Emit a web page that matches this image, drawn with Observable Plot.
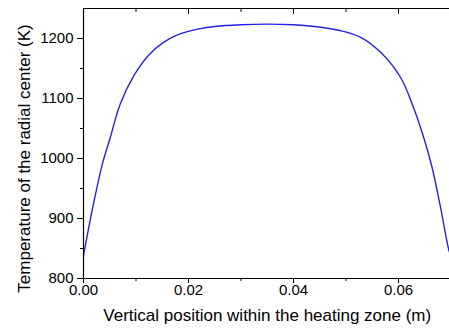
<!DOCTYPE html>
<html>
<head>
<meta charset="utf-8">
<script src="https://cdn.jsdelivr.net/npm/d3@7"></script>
<script src="https://cdn.jsdelivr.net/npm/@observablehq/plot@0.6"></script>
<style>
  html, body { margin: 0; padding: 0; background: #fff; }
  svg { display: block; }
</style>
</head>
<body>
<div id="chart"></div>
<script>
const positions = [0, 0.001, 0.0023, 0.0036, 0.0051, 0.007, 0.0096, 0.0124, 0.0153, 0.0185, 0.022, 0.025, 0.03, 0.035, 0.04, 0.044, 0.049, 0.0528, 0.0566, 0.0604, 0.0626, 0.0648, 0.0664, 0.068, 0.0696, 0.07];
const temps = [838, 885, 941, 991, 1035, 1091, 1138, 1172, 1194, 1208, 1216, 1220, 1223, 1224, 1223, 1220, 1213, 1202, 1177, 1135, 1091, 1035, 985, 919, 847, 838];
const xMajor = [0, 0.02, 0.04, 0.06];
const xMinor = [0.01, 0.03, 0.05];
const yMajor = [800, 900, 1000, 1100, 1200];
const yMinor = [850, 950, 1050, 1150];
const xDomain = [0, 0.07];
const yDomain = [800, 1250];
const xLabel = "Vertical position within the heating zone (m)";
const yLabel = "Temperature of the radial center (K)";

const data = positions.map((x, i) => ({x, t: temps[i]}));
const font = "Liberation Sans, Arial, Helvetica, sans-serif";

const chart = Plot.plot({
  width: 449,
  height: 335,
  marginLeft: 83,
  marginRight: -1.5,
  marginTop: 8,
  marginBottom: 57,
  style: {fontFamily: font, fontSize: "15px", color: "#000", background: "#fff"},
  x: {domain: xDomain},
  y: {domain: yDomain},
  marks: [
    Plot.line(data, {x: "x", y: "t", stroke: "#2222e6", strokeWidth: 1.4, curve: "catmull-rom"}),
    Plot.ruleX([xDomain[0]], {stroke: "#000", strokeWidth: 1.2}),
    Plot.ruleY([yDomain[0]], {stroke: "#000", strokeWidth: 1.2}),
    Plot.ruleY([yDomain[1]], {stroke: "#000", strokeWidth: 1.2}),
    Plot.axisX({ticks: xMajor, tickSize: 5, tickPadding: 1, tickFormat: d3.format(".2f"), label: null, fontSize: 15}),
    Plot.axisX({ticks: xMinor, tickSize: 3, tickFormat: () => "", label: null}),
    Plot.axisX({anchor: "top", ticks: xMajor, tickSize: -5, tickFormat: () => "", label: null}),
    Plot.axisX({anchor: "top", ticks: xMinor, tickSize: -3, tickFormat: () => "", label: null}),
    Plot.axisY({ticks: yMajor, tickSize: 6, tickPadding: 4, tickFormat: d3.format("d"), label: null, fontSize: 15}),
    Plot.axisY({ticks: yMinor, tickSize: 3, tickFormat: () => "", label: null}),
    Plot.text([xLabel], {text: d => d, frameAnchor: "bottom", dy: 37, fontSize: 17, lineAnchor: "middle", textAnchor: "middle", fill: "#000"}),
    Plot.text([yLabel], {text: d => d, frameAnchor: "left", dx: -59, dy: 15, rotate: -90, fontSize: 17, lineAnchor: "middle", textAnchor: "middle", fill: "#000"})
  ]
});
document.getElementById("chart").appendChild(chart);
</script>
</body>
</html>
